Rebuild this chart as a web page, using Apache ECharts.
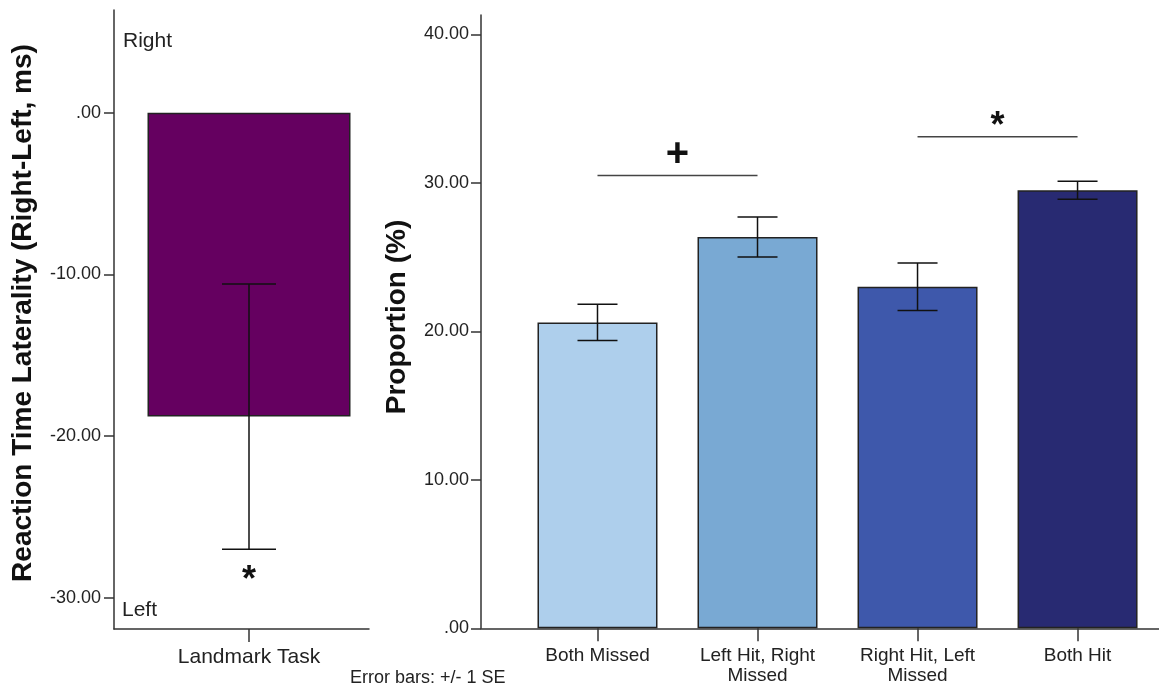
<!DOCTYPE html>
<html>
<head>
<meta charset="utf-8">
<script src="https://cdn.jsdelivr.net/npm/echarts@6/dist/echarts.min.js"></script>
<style>
html,body{margin:0;padding:0;background:#fff;}
#c{width:1159px;height:695px;}
</style>
</head>
<body>
<div id="c"></div>
<script>
// ---- data ----
const leftCategories = ['Landmark Task'];
const leftMeans = [-18.8];
const leftSE = [8.2];
const leftSig = ['*'];
const leftTicks = [-30, -20, -10, 0];

const rightCategories = ['Both Missed', 'Left Hit, Right\nMissed', 'Right Hit, Left\nMissed', 'Both Hit'];
const rightMeans = [20.6, 26.35, 23.0, 29.5];
const rightSE = [1.22, 1.35, 1.6, 0.6];
const rightColors = ['#AECFEC', '#79A9D3', '#3E58AB', '#282A72'];
const rightTicks = [0, 10, 20, 30, 40];
// significance brackets: [from category, to category, height, mark]
const sigFrom = [0, 2];
const sigTo = [1, 3];
const sigY = [30.5, 33.1];
const sigMark = ['+', '*'];

const FONT = 'Liberation Sans, Arial, sans-serif';
const TXT = '#222';
const AX = '#333';

function fmt(v){ return v === 0 ? '.00' : v.toFixed(2); }

const chart = echarts.init(document.getElementById('c'), null, {renderer:'canvas'});

function errRender(capW, withSig){
  return function(params, api){
    const x = api.value(0), m = api.value(1), s = api.value(2);
    const top = api.coord([x, m + s]);
    const bot = api.coord([x, m - s]);
    const st = {stroke:'#111', lineWidth:1.5};
    const children = [
      {type:'line', shape:{x1:top[0], y1:top[1], x2:bot[0], y2:bot[1]}, style:st},
      {type:'line', shape:{x1:top[0]-capW/2, y1:top[1], x2:top[0]+capW/2, y2:top[1]}, style:st},
      {type:'line', shape:{x1:bot[0]-capW/2, y1:bot[1], x2:bot[0]+capW/2, y2:bot[1]}, style:st}
    ];
    if (withSig) {
      const lo = m < 0 ? bot : top;
      children.push({type:'text', x: lo[0], y: lo[1] + 32,
        style:{text: withSig[params.dataIndex], fontSize:36, fontWeight:'bold', fontFamily:FONT, fill:'#111', align:'center', verticalAlign:'middle'}});
    }
    return {type:'group', children};
  };
}

const option = {
  backgroundColor:'#fff',
  animation:false,
  grid:[
    {left:114, top:10, width:255, height:619},
    {left:481, top:15, right:0, height:613.3}
  ],
  xAxis:[
    {gridIndex:0, type:'value', min:-1.35, max:1.2,
     axisLine:{show:true, onZero:false, lineStyle:{color:AX, width:1.5}},
     axisTick:{show:true, length:13, customValues:leftCategories.map((c,i)=>i), lineStyle:{color:AX, width:1.5}},
     axisLabel:{customValues:leftCategories.map((c,i)=>i), formatter:v=>leftCategories[Math.round(v)]||'', margin:18, fontSize:21, fontFamily:FONT, color:TXT},
     splitLine:{show:false}},
    {gridIndex:1, type:'value', min:-0.728, max:3.509,
     axisLine:{show:true, onZero:false, lineStyle:{color:AX, width:1.5}},
     axisTick:{show:true, length:13, customValues:rightCategories.map((c,i)=>i), lineStyle:{color:AX, width:1.5}},
     axisLabel:{customValues:rightCategories.map((c,i)=>i), formatter:v=>rightCategories[Math.round(v)]||'', margin:17, fontSize:19, lineHeight:20, fontFamily:FONT, color:TXT},
     splitLine:{show:false}}
  ],
  yAxis:[
    {gridIndex:0, type:'value', min:-31.94, max:6.35,
     axisLine:{show:true, onZero:false, lineStyle:{color:AX, width:1.5}},
     axisTick:{show:true, length:10, customValues:leftTicks, lineStyle:{color:AX, width:1.5}},
     axisLabel:{customValues:leftTicks, formatter:fmt, margin:13, fontSize:18, fontFamily:FONT, color:TXT},
     splitLine:{show:false}},
    {gridIndex:1, type:'value', min:0, max:41.3,
     axisLine:{show:true, onZero:false, lineStyle:{color:AX, width:1.5}},
     axisTick:{show:true, length:10, customValues:rightTicks, lineStyle:{color:AX, width:1.5}},
     axisLabel:{customValues:rightTicks, formatter:fmt, margin:12, fontSize:18, fontFamily:FONT, color:TXT},
     splitLine:{show:false}}
  ],
  graphic:[
    {type:'text', x:23, y:313, rotation:Math.PI/2, style:{text:'Reaction Time Laterality (Right-Left, ms)', fontSize:28, fontWeight:'bold', fontFamily:FONT, fill:'#111', align:'center', verticalAlign:'middle'}},
    {type:'text', x:397, y:317, rotation:Math.PI/2, style:{text:'Proportion (%)', fontSize:28, fontWeight:'bold', fontFamily:FONT, fill:'#111', align:'center', verticalAlign:'middle'}},
    {type:'text', x:123, y:41, style:{text:'Right', fontSize:21, fontFamily:FONT, fill:TXT, align:'left', verticalAlign:'middle'}},
    {type:'text', x:122, y:610, style:{text:'Left', fontSize:21, fontFamily:FONT, fill:TXT, align:'left', verticalAlign:'middle'}},
    {type:'text', x:350, y:678, style:{text:'Error bars: +/- 1 SE', fontSize:18, fontFamily:FONT, fill:TXT, align:'left', verticalAlign:'middle'}}
  ],
  series:[
    {type:'bar', xAxisIndex:0, yAxisIndex:0, barWidth:203,
     data:leftMeans.map((v,i)=>[i, v]),
     itemStyle:{color:'#650060', borderColor:'#222', borderWidth:1.5}},
    {type:'custom', xAxisIndex:0, yAxisIndex:0, z:5,
     data:leftMeans.map((v,i)=>[i, v, leftSE[i]]),
     renderItem:errRender(54, leftSig)},
    {type:'bar', xAxisIndex:1, yAxisIndex:1, barWidth:120,
     data:rightMeans.map((v,i)=>({value:[i, v], itemStyle:{color:rightColors[i]}})),
     itemStyle:{borderColor:'#222', borderWidth:1.5}},
    {type:'custom', xAxisIndex:1, yAxisIndex:1, z:5,
     data:rightMeans.map((v,i)=>[i, v, rightSE[i]]),
     renderItem:errRender(40, null)},
    {type:'custom', xAxisIndex:1, yAxisIndex:1, z:5,
     data:sigY.map((y,i)=>[sigFrom[i], sigTo[i], y]),
     renderItem:function(params, api){
       const a = api.coord([api.value(0), api.value(2)]);
       const b = api.coord([api.value(1), api.value(2)]);
       const mk = sigMark[params.dataIndex];
       const isPlus = mk === '+';
       return {type:'group', children:[
         {type:'line', shape:{x1:a[0], y1:a[1], x2:b[0], y2:b[1]}, style:{stroke:'#444', lineWidth:1.5}},
         {type:'text', x:(a[0]+b[0])/2, y:a[1] - (isPlus ? 20 : 10),
          style:{text:mk, fontSize:isPlus ? 40 : 36, fontWeight:'bold', fontFamily:FONT, fill:'#111', align:'center', verticalAlign:'middle'}}
       ]};
     }}
  ]
};
chart.setOption(option);
</script>
</body>
</html>
